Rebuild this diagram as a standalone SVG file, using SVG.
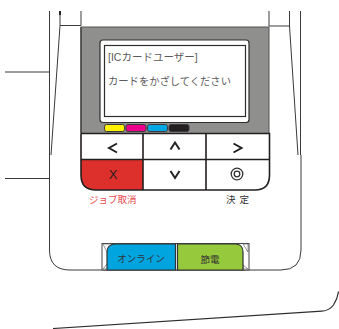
<svg xmlns="http://www.w3.org/2000/svg" width="339" height="329" viewBox="0 0 339 329">
<style>
.l{fill:none;stroke:#3a3a3a;stroke-width:1}
.d{fill:none;stroke:#2e2e2e;stroke-width:1.2}
.g{fill:none;stroke:#231f20;stroke-width:1.600}
.t{font-family:"Liberation Sans","Noto Sans CJK JP",sans-serif;fill:#5a5a5a}
.b{font-family:"Noto Sans CJK JP","Liberation Sans",sans-serif;fill:#333}
.p{stroke:#3a3a3a;stroke-width:1}
.a{fill:none;stroke:#222;stroke-width:2}
</style>
<rect width="339" height="329" fill="#fff"/>
<g id="body">
<path class="l" d="M49.500 11V250Q49.500 270 70 270H281Q301 270 301 250V155"/>
<path class="l" d="M60 11V25.500H81V11M60 25.500L51 155M269 11V26H289.500M289.500 11V26L298 155M300.500 11V155"/>
<path class="l" d="M5 72H49M5 178.500H49"/>
<path d="M60 11V15" stroke="#222" stroke-width="2"/>
<path class="d" d="M53 328.500L322 311.200Q329 310.800 333.500 305Q337.500 299 338.500 291.500"/>
</g>
<g id="panel">
<rect x="81" y="27" width="188" height="106.500" fill="#8f8f8d" stroke="#555" stroke-width="1"/>
<path d="M81 27V133" stroke="#444" stroke-width="1.400"/>
</g>
<g id="screen">
<rect x="100" y="40" width="149" height="82.500" rx="3" fill="#fff" stroke="#2e2e2e" stroke-width="1.200"/>
<rect x="104.500" y="45.500" width="141" height="71" fill="#fff" stroke="#2e2e2e" stroke-width="1.200"/>
<text class="t" x="108" y="60.500" font-size="10.500">[ICカードユーザー]</text>
<text class="t" x="108" y="85" font-size="10.300">カードをかざしてください</text>
</g>
<g id="toner">
<rect class="p" x="104.500" y="124.500" width="20" height="7" rx="2" fill="#fff200"/>
<rect class="p" x="126" y="124.500" width="20" height="7" rx="2" fill="#ec008c"/>
<rect class="p" x="147.500" y="124.500" width="20" height="7" rx="2" fill="#00a7e3"/>
<rect class="p" x="169" y="124.500" width="20" height="7" rx="2" fill="#231f20"/>
</g>
<g id="keypad">
<path d="M81 133.500H269V159.500H81Z" fill="#fff"/>
<path d="M81 160H143V190H96Q81 190 81 175Z" fill="#dd302c"/>
<path class="g" d="M81 133.500V175Q81 190 96 190H255Q269.500 190 269.500 175V133.500H81"/>
<path class="g" d="M143 133V190M206 133V190M81 159.500H269"/>
<text x="113" y="179" font-size="13" text-anchor="middle" font-family="Liberation Sans,sans-serif" fill="#2a2020">X</text>
<path class="a" d="M117 143.500L109 148L117 152.500"/>
<path class="a" d="M170.500 149.500L175 142.500L179.500 149.500"/>
<path class="a" d="M233.500 143.500L241.500 148L233.500 152.500"/>
<path class="a" d="M170.500 171L175 178L179.500 171"/>
<circle cx="237" cy="174" r="5.800" fill="none" stroke="#333" stroke-width="1.300"/>
<circle cx="237" cy="174" r="2.800" fill="none" stroke="#333" stroke-width="1.300"/>
</g>
<g id="labels">
<text x="89" y="202.500" font-size="9.500" font-family="Noto Sans CJK JP,sans-serif" fill="#e8484c">ジョブ取消</text>
<text class="b" x="226" y="202.500" font-size="9.500" letter-spacing="4">決定</text>
</g>
<g id="buttons">
<rect x="102" y="243.500" width="147" height="26.500" fill="#fff" stroke="#444" stroke-width="1"/>
<path d="M103 244H112L107 252ZM243 244H248V252ZM103 269L107 264L110 269ZM243 265L248 269H243Z" fill="#fff" stroke="#666" stroke-width=".7"/>
<path d="M107 270V252Q107 244 116 244H175.500V270Z" fill="#00a5e0" stroke="#333" stroke-width="1.200"/>
<path d="M177.500 244H235Q243 244 243 252V270H177.500Z" fill="#97c93c" stroke="#333" stroke-width="1.200"/>
<text class="b" x="141" y="262" font-size="9.500" text-anchor="middle">オンライン</text>
<text class="b" x="210" y="263" font-size="9.500" text-anchor="middle">節電</text>
</g>
</svg>
